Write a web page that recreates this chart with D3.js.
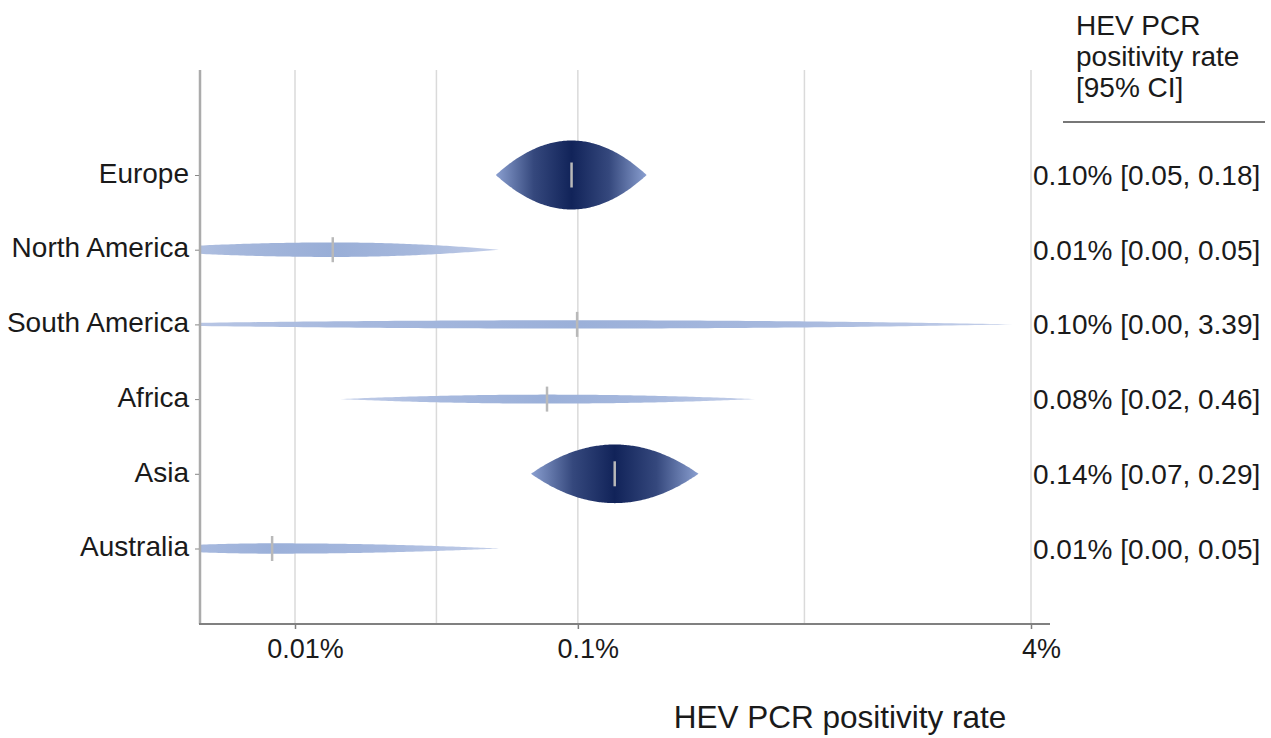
<!DOCTYPE html>
<html>
<head>
<meta charset="utf-8">
<script src="https://cdn.jsdelivr.net/npm/d3@7"></script>
<style>
  body { margin: 0; background: #fff; }
  svg text { font-family: "Liberation Sans", Arial, sans-serif; fill: #1a1a1a; }
</style>
</head>
<body>
<div id="chart"></div>
<script>
// region rows, top to bottom
const regions = ['Europe', 'North America', 'South America', 'Africa', 'Asia', 'Australia'];
// positivity rate in %
const estimates = [0.095, 0.0136, 0.0994, 0.0778, 0.135, 0.0083];
const lowerCI = [0.0513, 0.0026, 0.0020, 0.01445, 0.0683, 0.0026];
const upperCI = [0.175, 0.0526, 3.45, 0.423, 0.267, 0.0526];
// relative weight of each pooled estimate (drop height / shade)
const weights = [1.0, 0.21, 0.12, 0.13, 0.85, 0.15];
const ciLabels = [
  '0.10% [0.05, 0.18]',
  '0.01% [0.00, 0.05]',
  '0.10% [0.00, 3.39]',
  '0.08% [0.02, 0.46]',
  '0.14% [0.07, 0.29]',
  '0.01% [0.00, 0.05]'
];
const xTicks = [0.01, 0.1, 4];
const headerLines = ['HEV PCR', 'positivity rate', '[95% CI]'];
const xTitle = 'HEV PCR positivity rate';

const W = 1271, H = 738;
const plot = { left: 200, right: 1050, top: 70, bottom: 624 };
const fontSize = '28px';

const svg = d3.select('#chart').append('svg')
  .attr('width', W)
  .attr('height', H)
  .attr('viewBox', `0 0 ${W} ${H}`);

// log scale anchored on the 0.01% and 4% ticks, then stretched to the panel
let x = d3.scaleLog().domain([0.01, 4]).range([295, 1031]);
x = x.copy().domain([x.invert(plot.left), x.invert(plot.right)]).range([plot.left, plot.right]);

const y = d3.scalePoint().domain(regions).range([175, 548.5]);

// grid: majors at ticks, minors half way in log space
const minor = [];
for (let i = 0; i < xTicks.length - 1; i++) minor.push(Math.sqrt(xTicks[i] * xTicks[i + 1]));
svg.append('g').selectAll('line')
  .data(xTicks.concat(minor))
  .enter().append('line')
  .attr('x1', d => x(d)).attr('x2', d => x(d))
  .attr('y1', plot.top).attr('y2', plot.bottom)
  .attr('stroke', '#dadada')
  .attr('stroke-width', 1.5);

// gradients, one per drop
const dark = d3.scaleLinear().domain([0.2, 0.85]).range([0, 1]).clamp(true);
const centreCol = d3.interpolateRgb('#9bb0d9', '#112359');
const edgeCol = d3.interpolateRgb('#c4cfe9', '#8a9fd0');
const defs = svg.append('defs');
defs.append('clipPath').attr('id', 'plotclip')
  .append('rect')
  .attr('x', plot.left).attr('y', plot.top)
  .attr('width', plot.right - plot.left).attr('height', plot.bottom - plot.top);

regions.forEach((r, i) => {
  const x0 = x(lowerCI[i]), x1 = x(upperCI[i]), xc = x(estimates[i]);
  const g = defs.append('linearGradient')
    .attr('id', 'grad' + i)
    .attr('gradientUnits', 'userSpaceOnUse')
    .attr('x1', x0).attr('x2', x1).attr('y1', 0).attr('y2', 0);
  const t = dark(weights[i]);
  const off = (xc - x0) / (x1 - x0);
  const mid = d3.interpolateRgb(edgeCol(t), centreCol(t))(0.7);
  g.append('stop').attr('offset', 0).attr('stop-color', edgeCol(t));
  g.append('stop').attr('offset', off * 0.5).attr('stop-color', mid);
  g.append('stop').attr('offset', off).attr('stop-color', centreCol(t));
  g.append('stop').attr('offset', off + (1 - off) * 0.5).attr('stop-color', mid);
  g.append('stop').attr('offset', 1).attr('stop-color', edgeCol(t));
});

// raindrop: height follows the log-likelihood (parabola) between CI limits
const maxHalf = 34.5;
const area = d3.area()
  .x(d => d.x)
  .y0(d => d.cy - d.h)
  .y1(d => d.cy + d.h)
  .curve(d3.curveLinear);

function dropPoints(i) {
  const lo = Math.log10(lowerCI[i]), hi = Math.log10(upperCI[i]), es = Math.log10(estimates[i]);
  const pts = [];
  const n = 120;
  for (let k = 0; k <= n; k++) {
    const v = lo + (hi - lo) * k / n;
    const z = v < es ? (es - v) / (es - lo) : (v - es) / (hi - es);
    pts.push({ x: x(Math.pow(10, v)), cy: y(regions[i]), h: maxHalf * weights[i] * (1 - z * z) });
  }
  return pts;
}

const drops = svg.append('g').attr('clip-path', 'url(#plotclip)');
drops.selectAll('path')
  .data(regions)
  .enter().append('path')
  .attr('d', (d, i) => area(dropPoints(i)))
  .attr('fill', (d, i) => `url(#grad${i})`);

// point estimates
drops.selectAll('line')
  .data(regions)
  .enter().append('line')
  .attr('x1', (d, i) => x(estimates[i]))
  .attr('x2', (d, i) => x(estimates[i]))
  .attr('y1', d => y(d) - 12.5)
  .attr('y2', d => y(d) + 12.5)
  .attr('stroke', '#b9b9b9')
  .attr('stroke-width', 2.5);

// axes
svg.append('line')
  .attr('x1', plot.left).attr('x2', plot.left)
  .attr('y1', plot.top).attr('y2', plot.bottom)
  .attr('stroke', '#ababab').attr('stroke-width', 2.5);

const yAxis = svg.append('g')
  .attr('transform', `translate(${plot.left - 1},0)`)
  .call(d3.axisLeft(y).tickSize(4).tickPadding(6));
yAxis.select('.domain').remove();
yAxis.selectAll('.tick line').attr('stroke', '#888');
yAxis.selectAll('.tick text')
  .attr('font-size', fontSize)
  .attr('dy', '0.26em')
  .style('font-family', '"Liberation Sans", Arial, sans-serif')
  .style('fill', '#1a1a1a');

const xAxis = svg.append('g')
  .attr('transform', `translate(0,${plot.bottom})`)
  .call(d3.axisBottom(x).tickValues(xTicks).tickFormat(d => d + '%').tickSize(5).tickPadding(10));
xAxis.select('.domain').remove();
xAxis.selectAll('.tick line').attr('stroke', '#7f7f7f').attr('stroke-width', 1.5);
xAxis.selectAll('.tick text')
  .attr('font-size', '27px')
  .attr('dx', 10)
  .style('font-family', '"Liberation Sans", Arial, sans-serif')
  .style('fill', '#1a1a1a');

svg.append('line')
  .attr('x1', plot.left - 1).attr('x2', plot.right)
  .attr('y1', plot.bottom).attr('y2', plot.bottom)
  .attr('stroke', '#808080').attr('stroke-width', 2);

svg.append('text')
  .attr('x', 840).attr('y', 728)
  .attr('text-anchor', 'middle')
  .attr('font-size', '31.5px')
  .text(xTitle);

// right column: CI text
svg.append('g').selectAll('text')
  .data(ciLabels)
  .enter().append('text')
  .attr('x', 1033)
  .attr('y', (d, i) => y(regions[i]))
  .attr('dy', '0.36em')
  .attr('font-size', fontSize)
  .text(d => d);

svg.append('g').selectAll('text')
  .data(headerLines)
  .enter().append('text')
  .attr('x', 1076)
  .attr('y', (d, i) => 35 + i * 31)
  .attr('font-size', fontSize)
  .text(d => d);

svg.append('line')
  .attr('x1', 1063).attr('x2', 1265)
  .attr('y1', 122).attr('y2', 122)
  .attr('stroke', '#777').attr('stroke-width', 2);
</script>
</body>
</html>
